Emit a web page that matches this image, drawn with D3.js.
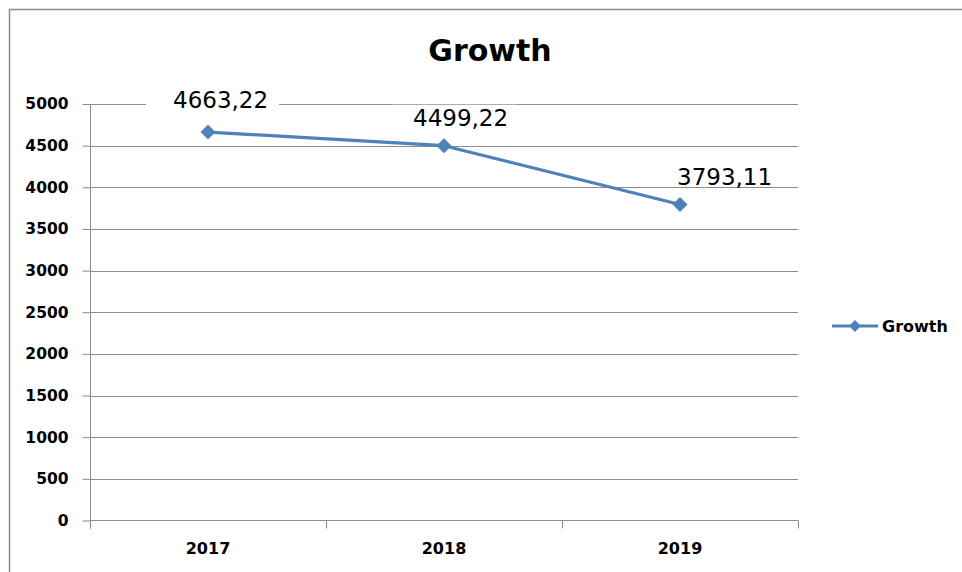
<!DOCTYPE html>
<html><head><meta charset="utf-8">
<script src="https://cdn.jsdelivr.net/npm/d3@7/dist/d3.min.js"></script>
<style>body{margin:0;background:#fff}svg{display:block}</style>
</head><body>
<svg id="c" width="962" height="572"></svg>
<script>
const categories = ["2017", "2018", "2019"];
const growthValues = [4663.22, 4499.22, 3793.11];
const labelTexts = ["4663,22", "4499,22", "3793,11"];
const yTicks = [0, 500, 1000, 1500, 2000, 2500, 3000, 3500, 4000, 4500, 5000];
const seriesName = "Growth";
const titleText = "Growth";

const svg = d3.select("#c");
const FONT = "'DejaVu Sans', Verdana, sans-serif";
const BLUE = "#4F81BD";
const GRID = "#8c8c8c";

// chart border
svg.append("rect").attr("x", 9.5).attr("y", 9.5).attr("width", 1000).attr("height", 1000)
  .attr("fill", "none").attr("stroke", GRID).attr("stroke-width", 1.5);

const L = 90, R = 798, T = 104, B = 520.5;
const x = d3.scaleBand().domain(categories).range([L, R]);
const y = d3.scaleLinear().domain([0, 5000]).range([B, T]);

// gridlines
svg.append("g").selectAll("line").data(yTicks.filter(d => d > 0)).join("line")
  .attr("x1", L).attr("x2", R).attr("y1", d => Math.round(y(d)) + 0.5).attr("y2", d => Math.round(y(d)) + 0.5)
  .attr("stroke", GRID).attr("stroke-width", 1);

// y axis
const yAxis = svg.append("g").attr("transform", `translate(${L + 0.5},0)`)
  .call(d3.axisLeft(y).tickValues(yTicks).tickSize(8).tickPadding(14).tickFormat(d3.format("d")));
yAxis.select(".domain").attr("stroke", GRID).attr("d", `M0,${T}V${B + 8}`);
yAxis.selectAll(".tick line").attr("stroke", GRID);
yAxis.selectAll(".tick text").attr("font-family", FONT).attr("font-weight", "bold")
  .attr("font-size", "15.5px").attr("fill", "#000");

// x axis
const xAxis = svg.append("g").attr("transform", `translate(0,${B})`)
  .call(d3.axisBottom(x).tickSize(0).tickPadding(22));
xAxis.select(".domain").attr("stroke", GRID).attr("d", `M${L},0H${R}`);
xAxis.selectAll(".tick text").attr("font-family", FONT).attr("font-weight", "bold")
  .attr("font-size", "16px").attr("fill", "#000");
// category boundary ticks
const bounds = categories.map(c => x(c)).concat([x(categories[categories.length - 1]) + x.bandwidth()]);
xAxis.append("g").selectAll("line").data(bounds).join("line")
  .attr("x1", d => Math.round(d) + 0.5).attr("x2", d => Math.round(d) + 0.5)
  .attr("y1", 0).attr("y2", 8).attr("stroke", GRID);

const data = categories.map((c, i) => ({ c, v: growthValues[i], t: labelTexts[i] }));
const cx = d => x(d.c) + x.bandwidth() / 2;

// line
svg.append("path").datum(data)
  .attr("d", d3.line().x(cx).y(d => y(d.v)))
  .attr("fill", "none").attr("stroke", BLUE).attr("stroke-width", 3.2).attr("stroke-linejoin", "round");

// markers
const diamond = d3.symbol().type(d3.symbolSquare).size(112);
svg.append("g").selectAll("path").data(data).join("path")
  .attr("d", diamond)
  .attr("transform", d => `translate(${cx(d)},${y(d.v)}) rotate(45)`)
  .attr("fill", BLUE);

// data labels (white box behind, covering gridlines near the text)
const labelOffsets = [{ dx: -35, dy: -24, pl: 27, pr: 11 }, { dx: -31, dy: -20, pl: 20, pr: 10 }, { dx: -3, dy: -20, pl: 10, pr: 10 }];
const lg = svg.append("g");
data.forEach((d, i) => {
  const o = labelOffsets[i];
  const g = lg.append("g");
  const ty = y(d.v) + o.dy;
  const t = g.append("text").attr("x", cx(d) + o.dx).attr("y", ty)
    .attr("font-family", FONT).attr("font-size", "23px").attr("fill", "#000").text(d.t);
  const bb = t.node().getBBox();
  g.insert("rect", "text").attr("x", bb.x - o.pl).attr("y", bb.y).attr("width", bb.width + o.pl + o.pr)
    .attr("height", ty + 1 - bb.y).attr("fill", "#fff");
});

// title
svg.append("text").attr("x", 490).attr("y", 61).attr("text-anchor", "middle")
  .attr("font-family", FONT).attr("font-weight", "bold").attr("font-size", "30px").attr("fill", "#000")
  .text(titleText);

// legend
const leg = svg.append("g").attr("transform", "translate(832,326)");
leg.append("line").attr("x1", 0).attr("x2", 46).attr("y1", 0).attr("y2", 0)
  .attr("stroke", BLUE).attr("stroke-width", 3.2);
leg.append("path").attr("d", d3.symbol().type(d3.symbolSquare).size(70))
  .attr("transform", "translate(23,0) rotate(45)").attr("fill", BLUE);
leg.append("text").attr("x", 50).attr("y", 6).attr("font-family", FONT).attr("font-weight", "bold")
  .attr("font-size", "16px").attr("fill", "#000").text(seriesName);
</script>
</body></html>
